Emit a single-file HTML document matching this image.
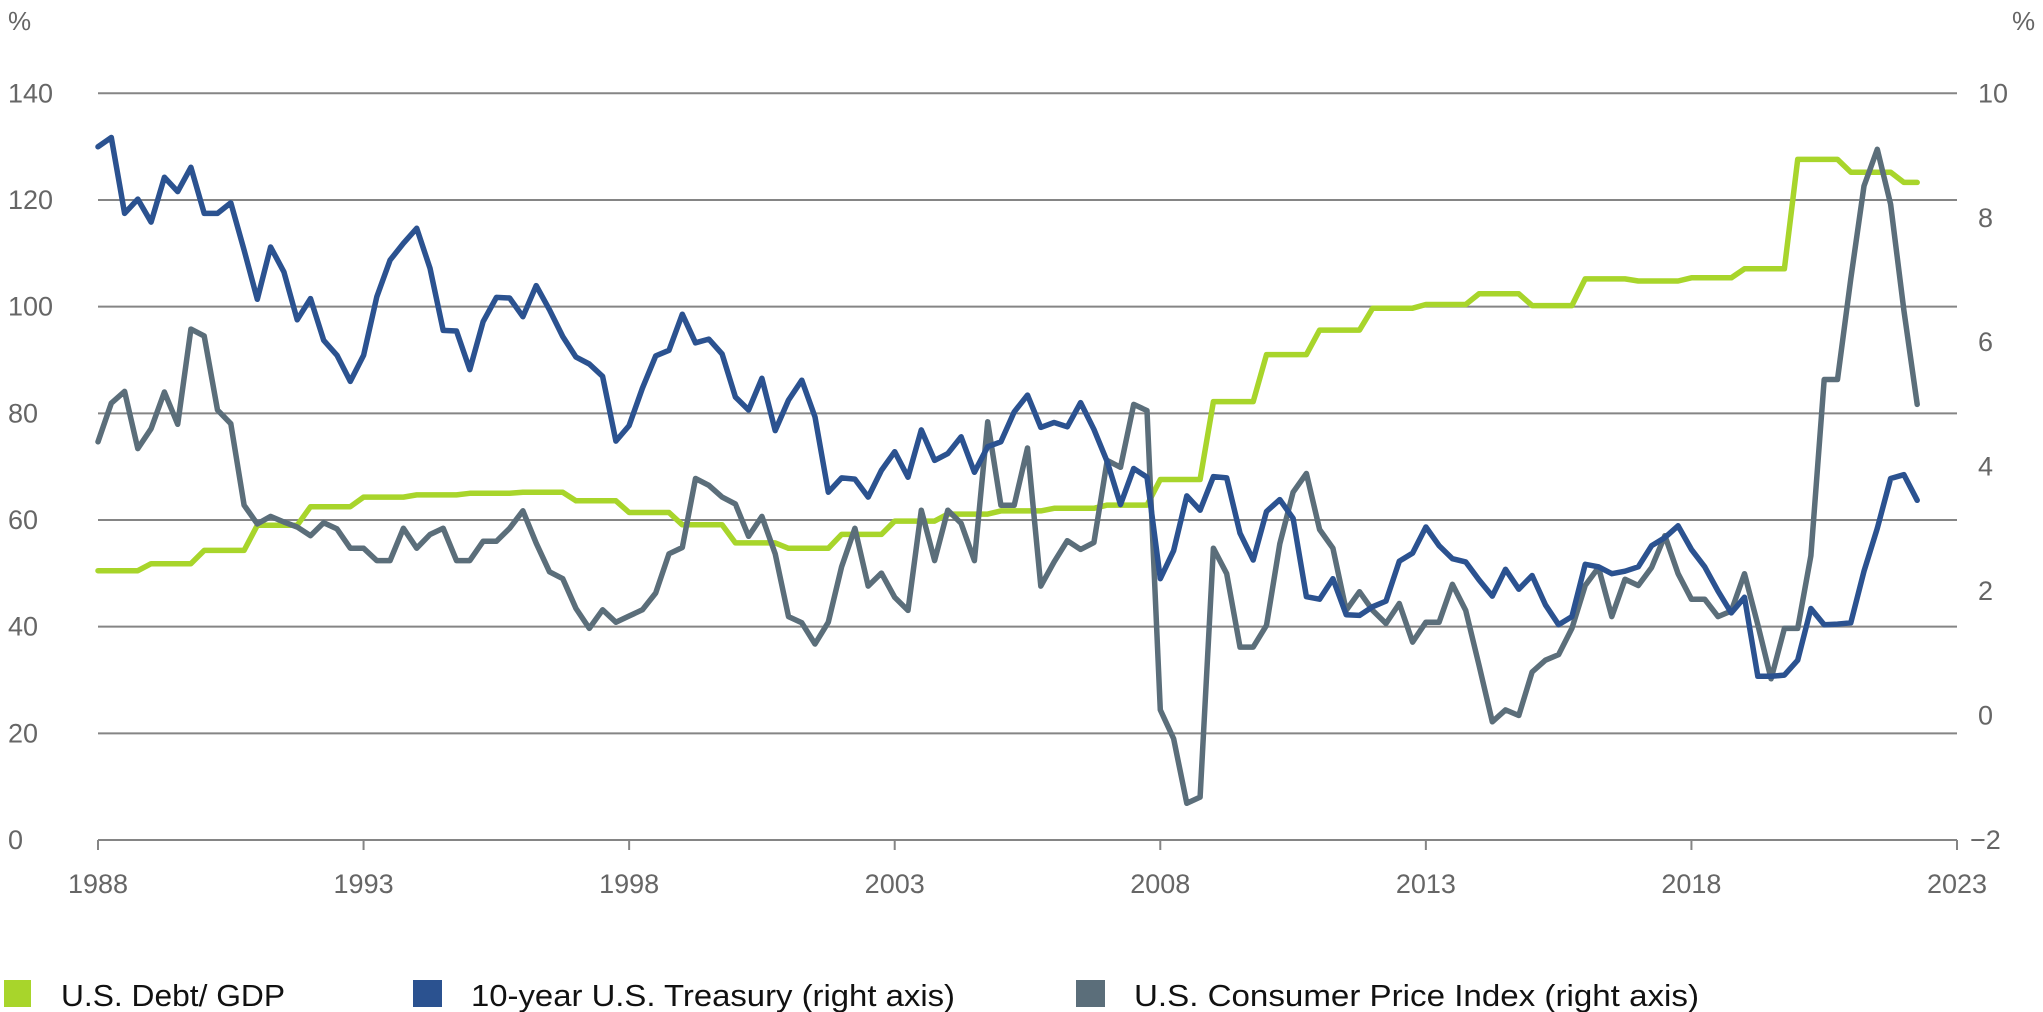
<!DOCTYPE html>
<html><head><meta charset="utf-8"><style>
html,body{margin:0;padding:0;background:#fff;}
svg{display:block;font-family:"Liberation Sans",sans-serif;}
</style></head><body>
<svg id="chart" width="2043" height="1012" viewBox="0 0 2043 1012" xmlns="http://www.w3.org/2000/svg">
<g id="grid"></g>
<g id="leftAxis"></g>
<g id="rightAxis"></g>
<g id="xAxis"></g>
<g id="series"></g>
<text x="8" y="30" font-size="26" fill="#666">%</text>
<text x="2012" y="30" font-size="26" fill="#666">%</text>
<g>
<g>
<rect x="4" y="980" width="27" height="27" fill="#a8d52b"/>
<text x="61" y="1006" font-size="31" fill="#111" textLength="224" lengthAdjust="spacingAndGlyphs">U.S. Debt/ GDP</text>
</g>
<g>
<rect x="413" y="980" width="29" height="27" fill="#2b5290"/>
<text x="471" y="1006" font-size="31" fill="#111" textLength="484" lengthAdjust="spacingAndGlyphs">10-year U.S. Treasury (right axis)</text>
</g>
<g>
<rect x="1076" y="980" width="29" height="27" fill="#5b6e7a"/>
<text x="1134" y="1006" font-size="31" fill="#111" textLength="565" lengthAdjust="spacingAndGlyphs">U.S. Consumer Price Index (right axis)</text>
</g>
</g>
</svg>
<script>
const startYear = 1988;
const xTickLabels = ["1988","1993","1998","2003","2008","2013","2018","2023"];
const leftTicks = [0,20,40,60,80,100,120,140];
const rightTicks = [-2,0,2,4,6,8,10];
const debtGdp = [
50.5,50.5,50.5,50.5, 51.8,51.8,51.8,51.8, 54.3,54.3,54.3,54.3, 59.0,59.0,59.0,59.0,
62.5,62.5,62.5,62.5, 64.3,64.3,64.3,64.3, 64.7,64.7,64.7,64.7, 65.0,65.0,65.0,65.0,
65.2,65.2,65.2,65.2, 63.6,63.6,63.6,63.6, 61.4,61.4,61.4,61.4, 59.1,59.1,59.1,59.1,
55.7,55.7,55.7,55.7, 54.7,54.7,54.7,54.7, 57.3,57.3,57.3,57.3, 59.8,59.8,59.8,59.8,
61.1,61.1,61.1,61.1, 61.7,61.7,61.7,61.7, 62.2,62.2,62.2,62.2, 62.8,62.8,62.8,62.8,
67.6,67.6,67.6,67.6, 82.2,82.2,82.2,82.2, 91.0,91.0,91.0,91.0, 95.6,95.6,95.6,95.6,
99.7,99.7,99.7,99.7, 100.4,100.4,100.4,100.4, 102.4,102.4,102.4,102.4, 100.2,100.2,100.2,100.2,
105.2,105.2,105.2,105.2, 104.8,104.8,104.8,104.8, 105.4,105.4,105.4,105.4, 107.1,107.1,107.1,107.1,
127.6,127.6,127.6,127.6, 125.2,125.2,125.2,125.2, 123.3,123.3];
const treasury10y = [
9.14,9.29,8.07,8.30,7.93,8.65,8.42,8.81,8.07,8.07,8.24,7.48,6.69,7.53,7.13,6.36,6.70,6.03,5.79,5.37,5.79,6.73,7.32,7.59,7.83,7.19,6.19,6.18,5.56,6.33,6.72,6.71,6.41,6.91,
6.52,6.09,5.76,5.65,5.45,4.41,4.66,5.26,5.78,5.87,6.45,5.99,6.05,5.81,5.12,4.91,5.42,4.58,5.07,5.39,4.80,3.59,3.82,3.80,3.51,3.94,4.24,3.83,4.59,4.10,4.21,4.48,3.91,4.32,
4.40,4.88,5.15,4.63,4.71,4.64,5.03,4.60,4.08,3.39,3.97,3.83,2.20,2.65,3.53,3.30,3.84,3.82,2.93,2.50,3.28,3.47,3.17,1.91,1.87,2.20,1.62,1.61,1.75,1.84,2.48,2.61,3.03,2.73,2.52,2.47,2.18,1.92,
2.35,2.03,2.25,1.78,1.46,1.59,2.43,2.39,2.28,2.32,2.39,2.73,2.86,3.05,2.67,2.39,2.00,1.65,1.90,0.63,0.63,0.65,0.89,1.72,1.46,1.47,1.49,2.32,3.01,3.81,3.87,3.46];
const cpi = [
4.40,5.02,5.21,4.29,4.61,5.20,4.68,6.21,6.10,4.91,4.69,
3.38,3.08,3.20,3.11,3.03,2.89,3.10,3.00,2.69,2.69,2.49,2.49,3.01,2.69,2.91,3.01,2.49,2.49,2.80,2.80,3.01,3.29,2.77,
2.31,2.20,1.72,1.40,1.70,1.50,1.60,1.70,1.97,2.60,2.70,3.81,3.70,3.51,3.40,2.88,3.20,2.60,1.59,1.49,1.15,1.50,2.39,3.01,2.08,2.29,1.90,1.69,3.30,2.49,3.30,3.09,2.49,4.72,
3.38,3.38,4.30,2.08,2.47,2.81,2.67,2.78,4.10,3.99,5.00,4.90,0.09,-0.37,-1.41,-1.31,2.69,2.28,1.10,1.10,1.45,2.76,3.59,3.89,2.99,2.69,1.69,1.99,1.69,1.48,1.80,1.18,1.50,1.50,2.11,1.69,0.81,-0.10,
0.09,0.00,0.70,0.89,0.98,1.40,2.09,2.38,1.59,2.19,2.09,2.38,2.89,2.28,1.87,1.87,1.59,1.68,2.28,1.46,0.59,1.40,1.40,2.57,5.40,5.40,7.02,8.51,9.10,8.22,6.51,5.00];

const NS = "http://www.w3.org/2000/svg";
const X0 = 98, X1 = 1957, Y_TOP = 93.3, Y_BOT = 840;
function xScale(year){ return X0 + (year - 1988) / 35 * (X1 - X0); }
function yLeft(v){ return Y_BOT - v / 140 * (Y_BOT - Y_TOP); }
function yRight(v){ return Y_BOT - (v + 2) / 12 * (Y_BOT - Y_TOP); }
function mk(tag, attrs, parent){
  const el = document.createElementNS(NS, tag);
  for (const k in attrs) el.setAttribute(k, attrs[k]);
  parent.appendChild(el);
  return el;
}
const grid = document.getElementById('grid');
const la = document.getElementById('leftAxis');
const ra = document.getElementById('rightAxis');
const xa = document.getElementById('xAxis');
const ser = document.getElementById('series');

leftTicks.forEach(t => {
  const y = yLeft(t);
  const ln = mk('line', {x1: X0, x2: X1, y1: y, y2: y, stroke: '#858585', 'stroke-width': 2}, grid);
  
  
  const tx = mk('text', {x: 8, y: y + 9, 'font-size': 27, fill: '#666'}, la);
  tx.textContent = String(t);
  
  
});
rightTicks.forEach(t => {
  const y = yRight(t);
  const tx = mk('text', {x: t < 0 ? 1970 : 1978, y: y + 9, 'font-size': 27, fill: '#666'}, ra);
  tx.textContent = t < 0 ? '\u2212' + Math.abs(t) : String(t);
  
  
});
xTickLabels.forEach(lbl => {
  const x = xScale(parseFloat(lbl));
  const tk = mk('line', {x1: x, x2: x, y1: Y_BOT, y2: Y_BOT + 10, stroke: '#858585', 'stroke-width': 2}, xa);
  
  
  const tx = mk('text', {x: x, y: 893, 'font-size': 27, fill: '#666', 'text-anchor': 'middle'}, xa);
  tx.textContent = lbl;
  
  
});

function drawLine(values, yFn, color, name){
  const pts = values.map((v, i) => xScale(startYear + i / 4).toFixed(1) + ',' + yFn(v).toFixed(1)).join(' ');
  const pl = mk('polyline', {points: pts, fill: 'none', stroke: color, 'stroke-width': 5.5, 'stroke-linejoin': 'round', 'stroke-linecap': 'round'}, ser);
  
  
}
drawLine(debtGdp, yLeft, '#a8d52b', 'debt-gdp-line');
drawLine(cpi, yRight, '#5b6e7a', 'cpi-line');
drawLine(treasury10y, yRight, '#2b5290', 'treasury-10y-line');
</script>
</body></html>
